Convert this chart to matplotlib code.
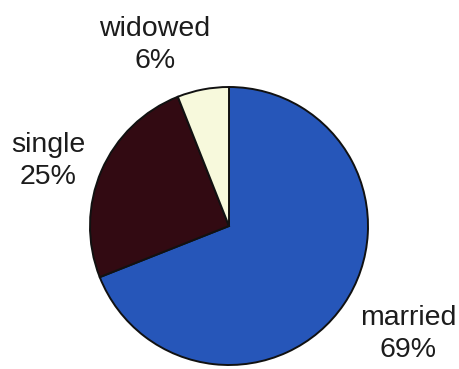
import matplotlib.pyplot as plt

plt.rcParams['font.family'] = ['Liberation Sans', 'DejaVu Sans']

labels = ['married', 'single', 'widowed']
shares = [69, 25, 6]
colors = ['#2656b9', '#320a12', '#f7f9dc']

fig = plt.figure(figsize=(4.6, 3.69), dpi=100)
ax = fig.add_axes([0, 0, 1, 1])

ax.pie(shares, colors=colors, startangle=90, counterclock=False,
       center=(229, 143), radius=139,
       wedgeprops=dict(edgecolor='#111111', linewidth=1.4))

# pie() resets the limits, so fix them afterwards
ax.set_xlim(0, 460)
ax.set_ylim(0, 369)
ax.set_aspect('equal')
ax.axis('off')

# label spots, one per slice
label_pos = {'married': (408, 35), 'single': (48, 208), 'widowed': (155, 324)}
for name, pct in zip(labels, shares):
    x, y = label_pos[name]
    ax.text(x, y, '%s\n%d%%' % (name, pct), ha='center', va='center',
            fontsize=20.5, color='#1c1c1c', linespacing=1.3)

fig.savefig('out.png', dpi=100)
